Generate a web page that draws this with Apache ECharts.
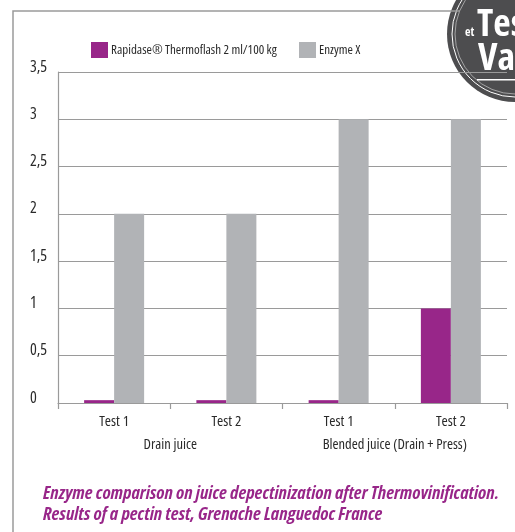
<!DOCTYPE html>
<html>
<head>
<meta charset="utf-8">
<script src="https://cdn.jsdelivr.net/npm/echarts@6/dist/echarts.min.js"></script>
<style>
  html, body { margin: 0; padding: 0; background: #fff; }
  #chart { width: 515px; height: 532px; }
</style>
</head>
<body>
<div id="chart"></div>
<script>
// categories and values
const categories = ['Test 1', 'Test 2', 'Test 1', 'Test 2']
const groups = ['Drain juice', 'Blended juice (Drain + Press)']
const rapidase = [0.03, 0.03, 0.03, 1]
const enzymeX = [2, 2, 3, 3]
const seriesNames = ['Rapidase® Thermoflash 2 ml/100 kg', 'Enzyme X']
const captionLines = [
  'Enzyme comparison on juice depectinization after Thermovinification.',
  'Results of a pectin test, Grenache Languedoc France'
]

const FONT = '"Open Sans", sans-serif'
const PURPLE = '#982689'
const GREY = '#b1b3b6'
const LINE = '#9a9a9a'
const INK = '#2a2a2a'
// echarts glues fontStyle/fontWeight into the canvas font string, so the stretch keyword goes there
const NARROW = 'normal condensed'

let chart = echarts.init(document.getElementById('chart'))

let legendText = { fontFamily: FONT, fontWeight: NARROW, fontSize: 13, color: INK, padding: [0, 0, 0, -2] }

let option = {
  animation: false,
  textStyle: { fontFamily: FONT },
  title: {
    text: captionLines.join('\n'),
    left: 43,
    top: 483,
    padding: 0,
    textStyle: {
      fontFamily: FONT,
      fontSize: 18.5,
      fontWeight: 'bold condensed',
      fontStyle: 'italic',
      color: PURPLE,
      lineHeight: 21
    }
  },
  legend: [
    {
      data: [seriesNames[0]],
      left: 91,
      top: 42,
      padding: 0,
      itemWidth: 17,
      itemHeight: 16,
      icon: 'rect',
      textStyle: legendText
    },
    {
      data: [seriesNames[1]],
      left: 299,
      top: 42,
      padding: 0,
      itemWidth: 17,
      itemHeight: 16,
      icon: 'rect',
      textStyle: legendText
    }
  ],
  grid: { left: 58, right: 8, top: 72, bottom: 129 },
  xAxis: [
    {
      type: 'category',
      data: categories,
      axisLine: { lineStyle: { color: LINE, width: 1.2 } },
      axisTick: { show: true, length: 6, lineStyle: { color: LINE, width: 1.2 } },
      axisLabel: { fontFamily: FONT, fontWeight: NARROW, fontSize: 15, color: INK, margin: 11, interval: 0 }
    },
    {
      type: 'category',
      data: groups,
      position: 'bottom',
      offset: 24,
      axisLine: { show: false },
      axisTick: { show: false },
      axisLabel: { fontFamily: FONT, fontWeight: NARROW, fontSize: 14.5, color: INK, margin: 10, interval: 0 }
    }
  ],
  yAxis: {
    type: 'value',
    min: 0,
    max: 3.5,
    interval: 0.5,
    axisLine: { show: true, lineStyle: { color: LINE, width: 1.2 } },
    axisTick: { show: false },
    splitLine: { lineStyle: { color: LINE, width: 1.2 } },
    axisLabel: {
      fontFamily: FONT,
      fontWeight: NARROW,
      fontSize: 16,
      color: INK,
      align: 'left',
      verticalAlign: 'bottom',
      lineHeight: 10,
      margin: 28,
      formatter: v => String(v).replace('.', ',')
    }
  },
  series: [
    {
      name: seriesNames[0],
      type: 'bar',
      barWidth: 30,
      barGap: '0%',
      itemStyle: { color: PURPLE },
      data: rapidase
    },
    {
      name: seriesNames[1],
      type: 'bar',
      barWidth: 30,
      barGap: '0%',
      itemStyle: { color: GREY },
      data: enzymeX
    }
  ],
  graphic: [
    // frame
    {
      type: 'polyline',
      shape: { points: [[13, 532], [13, 11], [460, 11]] },
      style: { stroke: LINE, lineWidth: 1.5, fill: null },
      z: 1
    },
    // badge
    {
      type: 'group',
      z: 100,
      children: [
        { type: 'circle', shape: { cx: 515, cy: 34, r: 68 }, style: { fill: '#4d4d4f' } },
        { type: 'circle', shape: { cx: 515, cy: 34, r: 63 }, style: { fill: null, stroke: '#fff', lineWidth: 1 } },
        { type: 'circle', shape: { cx: 515, cy: 34, r: 60 }, style: { fill: null, stroke: '#ddd', lineWidth: 0.6 } },
        { type: 'rect', shape: { x: 477, y: 79, width: 40, height: 1.5 }, style: { fill: '#fff' } },
        { type: 'text', x: 477, y: 6, style: { text: 'Tes', fill: '#fff', font: 'bold condensed 38px ' + FONT } },
        { type: 'text', x: 465, y: 27, style: { text: 'et', fill: '#fff', font: 'bold condensed 12px ' + FONT } },
        { type: 'text', x: 478, y: 40, style: { text: 'Val', fill: '#fff', font: 'bold condensed 38px ' + FONT } }
      ]
    }
  ]
}

chart.setOption(option)
</script>
</body>
</html>
